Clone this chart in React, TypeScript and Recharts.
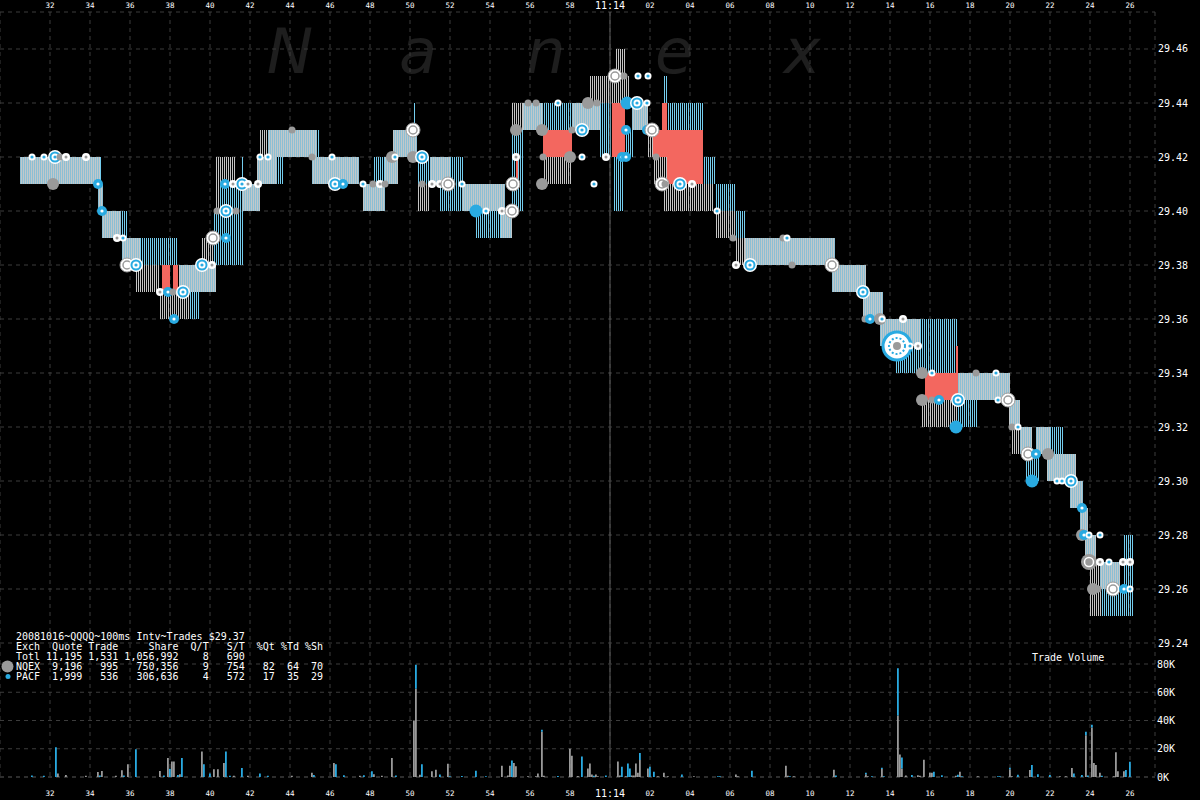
import React from "react";
import {
	Bar,
	CartesianGrid,
	ComposedChart,
	ReferenceArea,
	ReferenceLine,
	Scatter,
	XAxis,
	YAxis,
} from "recharts";

// time is in seconds relative to 11:14:00
const timeDomain: [number, number] = [-30.5, 27.25];
const timeTicks = [
	-28, -26, -24, -22, -20, -18, -16, -14, -12, -10, -8, -6, -4, -2, 0, 2, 4, 6,
	8, 10, 12, 14, 16, 18, 20, 22, 24, 26,
];
const priceTicks = [
	29.24, 29.26, 29.28, 29.3, 29.32, 29.34, 29.36, 29.38, 29.4, 29.42, 29.44,
	29.46,
];
const volumeTicks = [0, 20, 40, 60, 80];

// quote spreads: [from, to, bid, ask]
const solidQuotes: number[][] = [
	[-29.5, -25.5, 29.41, 29.42],
	[-25.6, -25.35, 29.4, 29.41],
	[-25.4, -24.45, 29.39, 29.4],
	[-24.4, -23.5, 29.38, 29.39],
	[-21.55, -19.7, 29.37, 29.38],
	[-18.4, -17.5, 29.4, 29.41],
	[-17.65, -16.65, 29.41, 29.42],
	[-17.1, -14.65, 29.42, 29.43],
	[-14.9, -12.55, 29.41, 29.42],
	[-12.35, -11.25, 29.4, 29.41],
	[-11.25, -10.6, 29.41, 29.42],
	[-10.85, -9.65, 29.42, 29.43],
	[-9.0, -8.0, 29.41, 29.42],
	[-7.4, -5.25, 29.4, 29.41],
	[-5.45, -4.9, 29.39, 29.4],
	[-4.35, -3.35, 29.43, 29.44],
	[-1.9, -0.5, 29.43, 29.44],
	[1.1, 1.9, 29.43, 29.44],
	[6.75, 11.25, 29.38, 29.39],
	[11.1, 12.8, 29.37, 29.38],
	[12.65, 13.65, 29.36, 29.37],
	[13.5, 15.5, 29.35, 29.36],
	[17.4, 20.0, 29.33, 29.34],
	[19.95, 20.5, 29.32, 29.33],
	[20.5, 21.1, 29.31, 29.32],
	[21.3, 22.0, 29.31, 29.32],
	[21.85, 23.3, 29.3, 29.31],
	[23.0, 23.65, 29.29, 29.3],
	[23.5, 23.9, 29.28, 29.29],
	[23.75, 24.3, 29.27, 29.28],
	[24.5, 25.5, 29.26, 29.27],
];

const blueTicks: number[][] = [
	[-25.55, -25.45, 29.41, 29.42],
	[-24.45, -24.1, 29.39, 29.4],
	[-23.5, -21.6, 29.38, 29.39],
	[-21.0, -20.5, 29.36, 29.37],
	[-19.85, -18.35, 29.38, 29.4],
	[-19.5, -18.35, 29.4, 29.41],
	[-18.4, -18.3, 29.41, 29.42],
	[-16.65, -16.35, 29.41, 29.42],
	[-14.65, -14.55, 29.42, 29.43],
	[-11.85, -11.25, 29.41, 29.42],
	[-9.8, -9.7, 29.43, 29.44],
	[-9.65, -9.0, 29.41, 29.42],
	[-8.5, -7.35, 29.4, 29.42],
	[-6.7, -5.45, 29.39, 29.4],
	[-4.95, -4.35, 29.4, 29.43],
	[-3.35, -1.9, 29.43, 29.44],
	[-0.5, 0.1, 29.42, 29.44],
	[0.15, 0.7, 29.4, 29.42],
	[0.75, 1.15, 29.42, 29.43],
	[2.65, 2.9, 29.44, 29.45],
	[2.9, 4.65, 29.43, 29.44],
	[4.65, 5.3, 29.41, 29.42],
	[5.3, 6.3, 29.4, 29.41],
	[6.25, 6.8, 29.39, 29.4],
	[14.25, 15.5, 29.34, 29.35],
	[15.5, 17.4, 29.34, 29.36],
	[17.4, 18.4, 29.32, 29.33],
	[20.8, 21.5, 29.3, 29.31],
	[21.9, 22.7, 29.31, 29.32],
	[24.6, 26.15, 29.25, 29.26],
	[25.65, 26.15, 29.26, 29.28],
];

const grayTicks: number[][] = [
	[-23.7, -22.5, 29.37, 29.38],
	[-22.5, -21.0, 29.36, 29.37],
	[-20.4, -19.85, 29.38, 29.39],
	[-19.75, -19.0, 29.4, 29.42],
	[-19.35, -18.75, 29.41, 29.42],
	[-17.5, -17.1, 29.42, 29.43],
	[-9.6, -9.0, 29.4, 29.41],
	[-4.9, -4.35, 29.43, 29.44],
	[-3.35, -1.9, 29.41, 29.42],
	[-1.0, 1.0, 29.44, 29.45],
	[0.25, 0.75, 29.45, 29.46],
	[1.85, 2.15, 29.42, 29.43],
	[2.15, 2.85, 29.41, 29.42],
	[2.65, 5.15, 29.4, 29.41],
	[5.3, 6.25, 29.39, 29.4],
	[6.25, 6.75, 29.38, 29.39],
	[15.6, 17.35, 29.32, 29.33],
	[20.1, 20.5, 29.31, 29.32],
	[24.0, 24.6, 29.25, 29.27],
	[25.0, 25.6, 29.25, 29.26],
];

const crossedQuotes: number[][] = [
	[-22.4, -22.0, 29.37, 29.38],
	[-21.85, -21.6, 29.37, 29.38],
	[-4.7, -4.6, 29.41, 29.42],
	[-3.35, -1.9, 29.42, 29.43],
	[0.1, 0.75, 29.42, 29.44],
	[2.15, 4.65, 29.42, 29.43],
	[2.85, 4.65, 29.41, 29.42],
	[2.6, 2.85, 29.43, 29.44],
	[15.75, 17.4, 29.33, 29.34],
	[17.3, 17.4, 29.34, 29.35],
];

// trades: [time, price, marker]
const trades: [number, number, string][] = [
	[-28.9, 29.42, "p"], [-28.3, 29.42, "p"], [-27.75, 29.42, "B"], [-27.5, 29.42, "n"],
	[-27.2, 29.42, "w"], [-26.2, 29.42, "w"], [-27.85, 29.41, "N"], [-25.6, 29.41, "P"],
	[-25.4, 29.4, "P"], [-24.65, 29.39, "w"], [-24.35, 29.39, "p"], [-24.15, 29.38, "W"],
	[-23.7, 29.38, "B"], [-22.5, 29.37, "w"], [-22.1, 29.37, "P"], [-21.85, 29.37, "n"],
	[-21.35, 29.37, "B"], [-21.8, 29.36, "P"], [-20.4, 29.38, "B"], [-19.9, 29.38, "w"],
	[-19.85, 29.39, "W"], [-19.2, 29.39, "P"], [-19.65, 29.4, "n"], [-19.2, 29.4, "B"],
	[-18.7, 29.4, "n"], [-19.25, 29.41, "P"], [-18.85, 29.41, "w"], [-18.4, 29.41, "B"],
	[-18.1, 29.41, "w"], [-17.6, 29.41, "w"], [-17.5, 29.42, "p"], [-17.1, 29.42, "p"],
	[-15.9, 29.43, "n"], [-14.9, 29.42, "n"], [-13.9, 29.42, "p"], [-13.75, 29.41, "B"],
	[-13.35, 29.41, "P"], [-12.35, 29.41, "p"], [-11.85, 29.41, "n"], [-11.5, 29.41, "w"],
	[-11.25, 29.41, "n"], [-10.9, 29.42, "N"], [-10.75, 29.42, "p"], [-9.85, 29.43, "W"],
	[-9.85, 29.42, "N"], [-9.4, 29.42, "B"], [-9.4, 29.41, "n"], [-8.9, 29.41, "w"],
	[-8.5, 29.41, "w"], [-8.1, 29.41, "W"], [-7.4, 29.41, "p"], [-6.7, 29.4, "Q"],
	[-6.2, 29.4, "p"], [-5.4, 29.4, "w"], [-4.9, 29.4, "W"], [-4.85, 29.41, "W"],
	[-4.7, 29.42, "w"], [-4.7, 29.43, "N"], [-4.1, 29.44, "n"], [-3.7, 29.44, "n"],
	[-3.4, 29.43, "N"], [-3.35, 29.42, "n"], [-3.4, 29.41, "N"], [-2.6, 29.44, "p"],
	[-2.0, 29.42, "N"], [-1.9, 29.43, "n"], [-1.4, 29.43, "B"], [-1.4, 29.42, "p"],
	[-1.1, 29.44, "N"], [-0.65, 29.44, "n"], [-0.8, 29.41, "p"], [-0.2, 29.42, "w"],
	[0.25, 29.45, "W"], [0.7, 29.45, "n"], [1.4, 29.45, "p"], [1.9, 29.45, "p"],
	[0.85, 29.44, "Q"], [1.35, 29.44, "B"], [1.85, 29.44, "p"], [0.6, 29.42, "P"],
	[0.8, 29.42, "P"], [0.8, 29.43, "P"], [1.85, 29.43, "P"], [2.1, 29.43, "W"],
	[2.3, 29.42, "n"], [2.6, 29.41, "W"], [2.75, 29.41, "n"], [3.5, 29.41, "B"],
	[4.1, 29.41, "w"], [5.35, 29.4, "p"], [6.15, 29.39, "n"], [6.3, 29.38, "w"],
	[7.0, 29.38, "B"], [8.65, 29.39, "n"], [8.85, 29.39, "p"], [9.1, 29.38, "n"],
	[11.1, 29.38, "W"], [12.65, 29.37, "B"], [12.75, 29.36, "n"], [13.0, 29.36, "P"],
	[13.5, 29.36, "N"], [13.6, 29.36, "p"], [14.65, 29.36, "w"], [14.35, 29.35, "X"],
	[15.0, 29.35, "p"], [15.4, 29.35, "w"], [15.6, 29.34, "N"], [16.1, 29.34, "p"],
	[18.3, 29.34, "n"], [19.3, 29.34, "p"], [15.6, 29.33, "N"], [16.1, 29.33, "n"],
	[16.45, 29.33, "P"], [17.4, 29.33, "B"], [19.4, 29.33, "p"], [19.9, 29.33, "W"],
	[17.3, 29.32, "Q"], [20.1, 29.32, "n"], [20.4, 29.32, "p"], [20.9, 29.31, "W"],
	[21.3, 29.31, "P"], [21.9, 29.31, "N"], [21.1, 29.3, "Q"], [22.35, 29.3, "p"],
	[22.6, 29.3, "p"], [23.05, 29.3, "B"], [23.6, 29.29, "P"], [23.6, 29.28, "N"],
	[23.7, 29.28, "P"], [23.95, 29.28, "p"], [24.5, 29.28, "p"], [23.95, 29.27, "G"],
	[24.5, 29.27, "w"], [24.95, 29.27, "p"], [25.65, 29.27, "w"], [26.0, 29.27, "w"],
	[24.15, 29.26, "N"], [24.4, 29.26, "n"], [25.15, 29.26, "W"], [25.7, 29.26, "P"],
	[26.0, 29.26, "p"],
];

// trade volume per 100ms interval, thousands of shares: [time, NQEX, PACF]
const volumes: number[][] = [
	[-28.9, 0, 1], [-28.3, 0, 0.8], [-27.7, 0, 21], [-27.6, 2.5, 0], [-27.2, 1.5, 0],
	[-26.2, 0.8, 0], [-25.6, 3.5, 0], [-25.5, 0, 1], [-25.4, 4.2, 0], [-24.7, 0.8, 0],
	[-24.4, 4.7, 0], [-24.3, 0, 1], [-24.1, 9, 0], [-23.7, 0, 19.6], [-22.5, 4.2, 0],
	[-22.3, 0, 1], [-22.1, 13.4, 0], [-22.0, 0, 5.9], [-21.9, 11, 0], [-21.8, 11, 0],
	[-21.6, 0, 1.5], [-21.5, 2, 0], [-21.4, 0, 13.4], [-20.4, 18, 0], [-20.3, 0, 9],
	[-20.0, 0, 2.5], [-19.8, 5.4, 0], [-19.6, 5.4, 0], [-19.3, 10, 0], [-19.2, 0, 18],
	[-19.0, 0, 0.8], [-18.8, 0.8, 0], [-18.4, 0, 6.4], [-18.1, 0.8, 0], [-17.5, 0, 2.5],
	[-17.1, 0, 0.8], [-15.9, 0.8, 0], [-14.9, 3, 0], [-14.8, 0, 1.5], [-13.8, 10, 0],
	[-13.7, 0, 9], [-13.3, 0, 1.2], [-12.5, 0.8, 0], [-12.3, 0, 1.2], [-11.9, 0, 4],
	[-11.8, 2, 0], [-11.4, 0.8, 0], [-10.9, 13.4, 0], [-10.7, 0, 1], [-9.8, 40, 0],
	[-9.7, 62.5, 17], [-9.5, 1.6, 0], [-9.4, 0, 9], [-8.9, 4, 0], [-8.7, 5.2, 0],
	[-8.5, 0, 1.7], [-8.1, 9.4, 0], [-8.0, 0, 0.6], [-7.4, 0, 0.7], [-6.7, 0, 4.5],
	[-6.2, 0, 0.6], [-5.4, 8, 0], [-5.1, 1, 0], [-5.0, 8, 0], [-4.9, 0, 11.6],
	[-4.8, 10, 0], [-4.7, 7.6, 0], [-4.1, 0.6, 0], [-3.7, 0.6, 0], [-3.6, 2.4, 0],
	[-3.4, 32, 1.5], [-3.3, 0.8, 0], [-2.6, 0, 0.7], [-2.0, 20, 0], [-1.9, 15, 0],
	[-1.6, 0.7, 0], [-1.4, 0, 14.5], [-1.1, 6, 0], [-1.0, 9.5, 0], [-0.9, 1.7, 0],
	[-0.8, 0, 0.8], [-0.7, 1.7, 0], [-0.6, 0.6, 0], [-0.2, 0, 1], [0.4, 10.9, 0],
	[0.5, 1, 0], [0.6, 0, 7.3], [0.8, 0.6, 0], [0.9, 0, 9.5], [1.0, 0, 6],
	[1.1, 1, 0], [1.2, 1, 0], [1.3, 9.5, 0], [1.4, 3, 0], [1.5, 12, 5],
	[1.9, 6, 0], [2.0, 0, 7.3], [2.2, 0, 3.8], [2.4, 0.6, 0], [2.7, 3, 0],
	[2.9, 0.6, 0], [3.6, 0, 1.7], [4.2, 0.6, 0], [5.4, 0, 0.6], [5.5, 0, 0.6],
	[6.3, 1.7, 0], [6.4, 0.6, 0], [7.1, 0, 4.5], [8.8, 8, 0], [8.9, 0.8, 0],
	[9.0, 0, 0.6], [9.2, 0.6, 0], [11.2, 5.2, 0], [11.3, 0, 1], [12.8, 2, 1],
	[12.9, 0.6, 0], [13.1, 0, 0.6], [13.6, 5.6, 1], [13.7, 0, 0.6], [14.4, 43.5, 33.5],
	[14.5, 16, 0], [14.6, 6, 7.8], [14.8, 1, 0], [15.1, 0, 1.5], [15.4, 1.3, 0],
	[15.5, 0.8, 0], [15.7, 12.3, 0], [16.0, 3, 0], [16.1, 3, 0], [16.2, 0, 3.8],
	[16.6, 0, 1.2], [17.3, 0.8, 0], [17.4, 0, 1.6], [17.5, 3.8, 0], [17.6, 0, 0.6],
	[18.4, 0.6, 0], [19.4, 0, 0.6], [19.5, 0, 0.6], [20.0, 5.5, 1], [20.1, 0.6, 0],
	[20.4, 0, 1.6], [21.0, 5, 0], [21.1, 0, 8.5], [21.4, 0, 2], [22.0, 0, 1.5],
	[22.5, 0.6, 0], [22.8, 0.6, 0], [23.1, 6.4, 0], [23.2, 0, 2.5], [23.6, 0, 1.5],
	[23.8, 29.5, 2.5], [23.9, 0, 1], [24.1, 35, 2], [24.2, 10, 0], [24.3, 8.5, 0],
	[24.5, 3, 0], [24.6, 0, 0.8], [25.2, 0.6, 0], [25.3, 17.5, 0], [25.4, 4, 0],
	[25.7, 4, 0], [25.8, 0, 5], [26.0, 0, 10.8],
];

const summaryLines = [
	"20081016~QQQQ~100ms Intv~Trades $29.37",
	"Exch  Quote Trade     Share  Q/T   S/T  %Qt %Td %Sh",
	"Totl 11,195 1,531 1,056,992    8   690",
	"NQEX  9,196   995   750,356    9   754   82  64  70",
	"PACF  1,999   536   306,636    4   572   17  35  29",
];

const watermark = ["N", "a", "n", "e", "x"];

const BLUE = "#29aae1";
const GRAY = "#9a9a9a";
const RED = "#f3675f";
const GRID = "#3c3c3c";
const MONO = "'DejaVu Sans Mono', monospace";

const tradeData = trades.map(([t, price, kind]) => ({ t, price, kind }));
const volumeData = volumes.map(([t, n, p]) => ({ t, n, p }));

const timeLabel = (v: number) =>
	v === 0 ? "11:14" : v < 0 ? String(60 + v) : String(v).padStart(2, "0");

const timeTick = (baseline: number) => (props: any) => {
	const { x, payload } = props;
	const big = payload.value === 0;
	return (
		<text
			x={x}
			y={big ? baseline + 1 : baseline}
			textAnchor="middle"
			fill="#fff"
			fontFamily={MONO}
			fontSize={big ? 10 : 7.5}
		>
			{timeLabel(payload.value)}
		</text>
	);
};

const PriceTick = (props: any) => (
	<text x={1158} y={props.y + 3.5} fill="#fff" fontFamily={MONO} fontSize={10}>
		{Number(props.payload.value).toFixed(2)}
	</text>
);

const VolumeTick = (props: any) => (
	<text x={1157} y={props.y + 3.5} fill="#fff" fontFamily={MONO} fontSize={10}>
		{`${props.payload.value}K`}
	</text>
);

function TradeDot(props: any) {
	const { cx, cy, payload } = props;
	if (cx == null || cy == null) return <g />;
	switch (payload.kind) {
		case "p":
			return (
				<g>
					<circle cx={cx} cy={cy} r={3.5} fill="#fff" />
					<circle cx={cx} cy={cy} r={1.6} fill={BLUE} />
				</g>
			);
		case "P":
			return (
				<g>
					<circle cx={cx} cy={cy} r={5} fill={BLUE} />
					<circle cx={cx} cy={cy} r={1.6} fill="#fff" />
				</g>
			);
		case "Q":
			return <circle cx={cx} cy={cy} r={6.5} fill={BLUE} />;
		case "B":
			return (
				<g>
					<circle cx={cx} cy={cy} r={7} fill="#fff" />
					<circle cx={cx} cy={cy} r={4.5} fill="none" stroke={BLUE} strokeWidth={2} />
					<circle cx={cx} cy={cy} r={1.6} fill={BLUE} />
				</g>
			);
		case "n":
			return <circle cx={cx} cy={cy} r={3.5} fill={GRAY} />;
		case "N":
			return <circle cx={cx} cy={cy} r={6} fill={GRAY} />;
		case "w":
			return (
				<g>
					<circle cx={cx} cy={cy} r={4} fill="#fff" />
					<circle cx={cx} cy={cy} r={1.5} fill={GRAY} />
				</g>
			);
		case "W":
			return (
				<g>
					<circle cx={cx} cy={cy} r={7} fill="#fff" stroke={GRAY} strokeWidth={1} />
					<circle cx={cx} cy={cy} r={4} fill="none" stroke={GRAY} strokeWidth={1.5} />
				</g>
			);
		case "G":
			return (
				<g>
					<circle cx={cx} cy={cy} r={8} fill={GRAY} />
					<circle cx={cx} cy={cy} r={4.5} fill="none" stroke="#fff" strokeWidth={1.5} />
				</g>
			);
		case "X":
			return (
				<g>
					<circle cx={cx} cy={cy} r={14} fill="#fff" stroke={BLUE} strokeWidth={3} />
					<circle
						cx={cx}
						cy={cy}
						r={8}
						fill="none"
						stroke={BLUE}
						strokeWidth={2}
						strokeDasharray="2 2"
					/>
					<circle cx={cx} cy={cy} r={4} fill={GRAY} />
				</g>
			);
		default:
			return <g />;
	}
}

const quoteAreas = (rows: number[][], fill: string, prefix: string) =>
	rows.map(([t0, t1, lo, hi], i) => (
		<ReferenceArea
			key={`${prefix}${i}`}
			xAxisId="bottom"
			yAxisId="price"
			x1={t0}
			x2={t1}
			y1={lo}
			y2={hi}
			fill={fill}
			fillOpacity={1}
			stroke="none"
			ifOverflow="visible"
			shapeRendering="crispEdges"
		/>
	));

export default function App() {
	return (
		<div style={{ position: "relative", width: 1200, height: 800, background: "#000" }}>
			<style>{"body{margin:0;background:#000}"}</style>

			<svg width={1200} height={800} style={{ position: "absolute", left: 0, top: 0 }}>
				{watermark.map((ch, i) => (
					<text
						key={ch + i}
						x={290 + i * 128}
						y={73}
						textAnchor="middle"
						fill="#1e1e1e"
						fontFamily="'DejaVu Sans', sans-serif"
						fontStyle="italic"
						fontSize={62}
					>
						{ch}
					</text>
				))}
			</svg>

			<div style={{ position: "absolute", left: 0, top: 0 }}>
				<ComposedChart width={1200} height={800} margin={{ top: 0, right: 0, bottom: 0, left: 0 }}>
					<defs>
						<pattern id="qSolid" width={2} height={4} patternUnits="userSpaceOnUse">
							<rect x={0} y={0} width={1} height={4} fill="#8bbfd4" />
							<rect x={1} y={0} width={1} height={4} fill="#c2c8ca" />
						</pattern>
						<pattern id="qBlue" width={2} height={4} patternUnits="userSpaceOnUse">
							<rect x={0} y={0} width={1} height={4} fill="#74cdee" />
						</pattern>
						<pattern id="qGray" width={2} height={4} patternUnits="userSpaceOnUse">
							<rect x={0} y={0} width={1} height={4} fill="#c4c4c4" />
						</pattern>
					</defs>
					<XAxis
						xAxisId="top"
						orientation="top"
						type="number"
						dataKey="t"
						domain={timeDomain}
						ticks={timeTicks}
						interval={0}
						height={12}
						axisLine={false}
						tickLine={false}
						allowDataOverflow
						tick={timeTick(8)}
					/>
					<XAxis
						xAxisId="bottom"
						orientation="bottom"
						type="number"
						dataKey="t"
						domain={timeDomain}
						ticks={timeTicks}
						interval={0}
						height={23}
						axisLine={false}
						tickLine={false}
						allowDataOverflow
						tick={timeTick(796)}
					/>
					<YAxis
						yAxisId="price"
						orientation="right"
						type="number"
						dataKey="price"
						domain={[29.1903704, 29.4737037]}
						ticks={priceTicks}
						interval={0}
						width={45}
						axisLine={false}
						tickLine={false}
						allowDataOverflow
						tick={PriceTick}
					/>
					<CartesianGrid
						xAxisId="bottom"
						yAxisId="price"
						stroke={GRID}
						strokeDasharray="4 4"
					/>
					<ReferenceLine xAxisId="bottom" yAxisId="price" x={0} stroke="#5a5a5a" />
					{quoteAreas(grayTicks, "url(#qGray)", "g")}
					{quoteAreas(blueTicks, "url(#qBlue)", "b")}
					{quoteAreas(solidQuotes, "url(#qSolid)", "s")}
					{quoteAreas(crossedQuotes, RED, "r")}
					<Scatter
						xAxisId="bottom"
						yAxisId="price"
						data={tradeData}
						shape={TradeDot}
						isAnimationActive={false}
					/>
				</ComposedChart>
			</div>

			<div style={{ position: "absolute", left: 0, top: 0 }}>
				<ComposedChart
					width={1200}
					height={800}
					data={volumeData}
					margin={{ top: 664, right: 0, bottom: 23, left: 0 }}
				>
					<XAxis type="number" dataKey="t" domain={timeDomain} hide allowDataOverflow />
					<YAxis
						orientation="right"
						type="number"
						domain={[0, 80]}
						ticks={volumeTicks}
						interval={0}
						width={45}
						axisLine={false}
						tickLine={false}
						allowDataOverflow
						tick={VolumeTick}
					/>
					<CartesianGrid vertical={false} stroke={GRID} strokeDasharray="4 4" />
					<Bar dataKey="n" stackId="v" fill={GRAY} barSize={2} isAnimationActive={false} />
					<Bar dataKey="p" stackId="v" fill={BLUE} barSize={2} isAnimationActive={false} />
				</ComposedChart>
			</div>

			<svg
				width={1200}
				height={800}
				style={{ position: "absolute", left: 0, top: 0, pointerEvents: "none" }}
			>
				{summaryLines.map((line, i) => (
					<text
						key={i}
						x={16}
						y={640 + i * 10}
						fill="#fff"
						fontFamily={MONO}
						fontSize={10}
						style={{ whiteSpace: "pre" }}
					>
						{line}
					</text>
				))}
				<circle cx={7.5} cy={666.5} r={6} fill={GRAY} />
				<circle cx={8} cy={676.5} r={2.5} fill={BLUE} />
				<text x={1032} y={661} fill="#fff" fontFamily={MONO} fontSize={10}>
					Trade Volume
				</text>
			</svg>
		</div>
	);
}
